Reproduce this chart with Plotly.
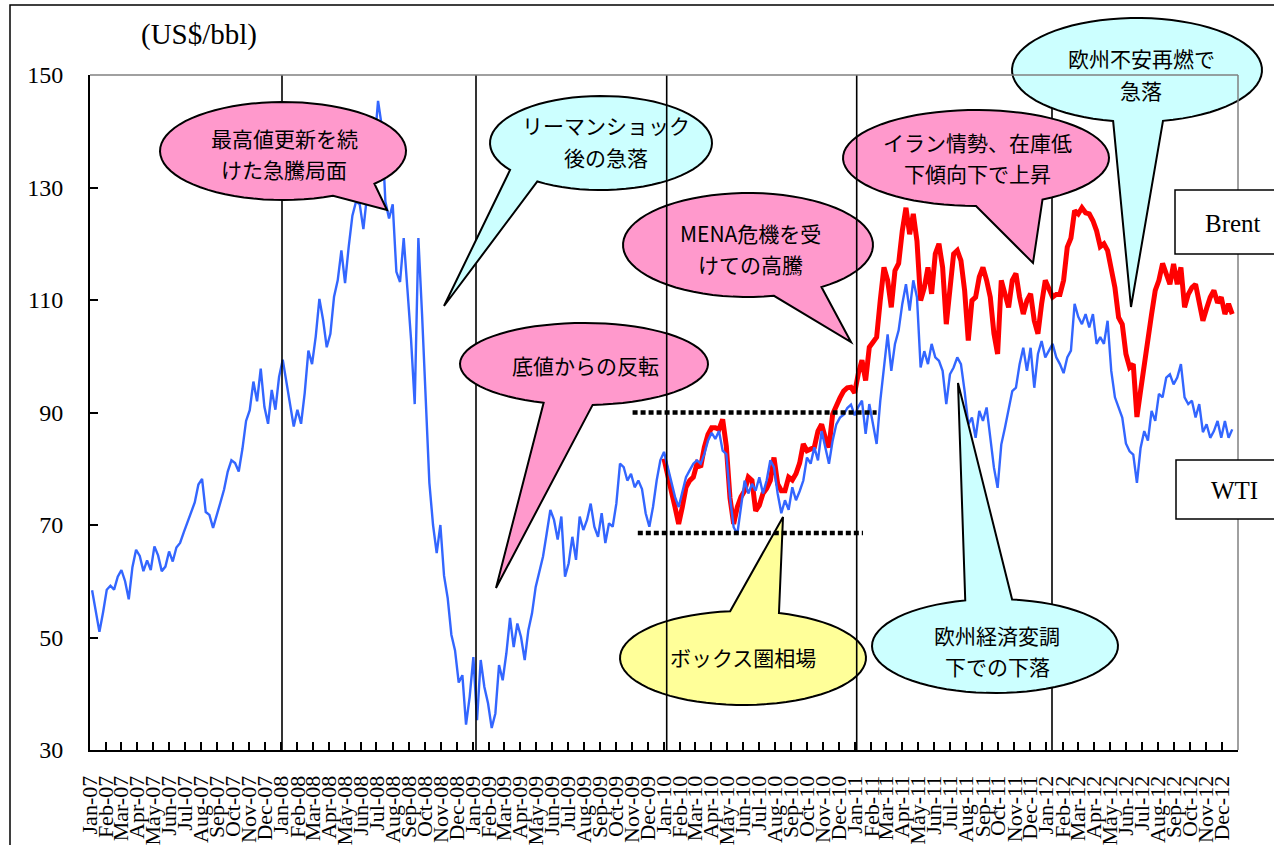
import numpy as np
import pandas as pd
import plotly.graph_objects as go

# ---------------------------------------------------------------
# Weekly (Friday) crude oil prices, US$/bbl
# ---------------------------------------------------------------
wti_2007 = [58.4, 55.0, 51.0, 54.5, 58.5, 59.2, 58.5, 60.8, 62.0, 60.0,
            56.8, 62.5, 65.6, 64.5, 61.8, 63.7, 62.0, 66.2, 64.6, 61.8,
            62.6, 65.3, 63.5, 66.0, 66.8, 68.7, 70.5, 72.5, 74.0, 77.2,
            78.2, 72.3, 71.8, 69.5, 72.0, 74.0, 76.3, 79.5, 81.5, 81.0,
            79.5, 83.5, 88.5, 90.4, 95.5, 92.0, 97.8, 91.0, 88.0, 94.0,
            90.5, 96.3]
wti_2008 = [99.4, 95.6, 92.0, 87.5, 90.5, 88.0, 93.5, 101.0, 98.6, 103.5,
            110.2, 106.5, 101.6, 104.0, 110.6, 113.5, 118.8, 113.0, 119.5, 125.0,
            127.5, 127.0, 122.6, 128.6, 133.0, 137.5, 145.4, 141.0, 127.5, 124.5,
            127.0, 115.0, 113.2, 121.0, 112.0, 103.0, 91.5, 121.0, 107.5, 93.0,
            77.5, 70.0, 65.0, 70.0, 61.0, 57.0, 50.5, 47.7, 42.0, 43.3,
            34.5, 39.5]
wti_2009 = [46.5, 35.3, 46.0, 41.2, 38.3, 33.9, 36.5, 45.1, 42.4, 47.2,
            53.5, 48.3, 52.5, 50.1, 46.0, 51.3, 54.3, 59.0, 61.5, 64.4,
            68.5, 72.7, 70.9, 67.4, 71.5, 60.8, 63.2, 67.9, 63.8, 71.5,
            69.1, 70.9, 73.8, 69.7, 67.9, 72.1, 66.8, 70.3, 69.7, 73.8,
            80.9, 80.3, 77.9, 79.1, 76.7, 77.9, 76.4, 72.1, 69.7, 73.2,
            77.9, 81.5]
wti_2010 = [83.0, 80.3, 77.9, 75.0, 73.2, 76.1, 78.5, 79.7, 80.9, 81.5,
            80.9, 82.6, 85.0, 86.4, 85.3, 86.7, 83.2, 82.6, 75.0, 69.6,
            68.4, 73.2, 77.9, 75.6, 77.3, 76.1, 78.5, 75.6, 77.9, 81.5,
            80.3, 75.6, 72.1, 74.4, 72.7, 76.7, 74.4, 76.0, 77.9, 82.0,
            80.9, 83.8, 81.5, 86.7, 83.8, 80.9, 85.0, 87.9, 89.1, 89.6,
            90.8, 91.4, 89.5]
wti_2011 = [91.0, 92.1, 86.2, 91.5, 88.0, 84.4, 92.1, 98.0, 103.9, 97.4,
            102.2, 104.6, 109.3, 112.8, 108.1, 113.5, 110.5, 98.0, 100.9, 98.6,
            102.2, 99.8, 99.2, 97.4, 91.5, 96.8, 98.0, 99.8, 98.6, 93.8,
            87.9, 89.1, 85.5, 90.3, 88.5, 90.9, 85.5, 80.2, 76.6, 84.3,
            87.3, 90.9, 93.8, 94.4, 98.6, 101.5, 97.4, 101.5, 94.4, 100.4,
            102.7, 99.8]
wti_2012 = [101.0, 102.2, 99.8, 98.6, 97.0, 99.8, 101.0, 109.3, 107.0, 105.7,
            107.5, 105.1, 107.5, 102.2, 103.4, 102.2, 106.3, 97.4, 92.7, 90.9,
            89.1, 84.5, 83.1, 82.5, 77.5, 83.7, 86.7, 85.0, 90.3, 88.5,
            93.3, 92.7, 96.2, 96.8, 95.0, 96.2, 98.6, 92.7, 91.5, 92.1,
            89.1, 91.5, 86.5, 87.9, 85.5, 86.7, 88.5, 85.5, 88.5, 85.5,
            87.0]

brent_2010 = [81.8, 78.5, 76.0, 73.2, 70.2, 73.2, 76.7, 77.9, 78.5, 80.9,
              80.3, 83.8, 86.1, 87.3, 87.3, 87.0, 88.8, 84.0, 74.8, 70.2,
              73.2, 75.0, 76.1, 78.5, 77.9, 72.5, 73.5, 75.6, 76.5, 77.9,
              82.0, 77.3, 76.1, 76.1, 78.5, 78.0, 79.1, 81.0, 84.4, 83.2,
              83.5, 83.8, 86.7, 87.9, 85.5, 83.8, 89.7, 91.4, 92.6, 93.8,
              94.4, 94.5, 93.5]
brent_2011 = [96.9, 99.3, 95.7, 101.6, 102.5, 103.4, 110.0, 115.8, 113.5, 108.7,
              115.2, 116.5, 122.3, 126.4, 121.7, 125.3, 120.5, 109.9, 112.2, 115.8,
              111.1, 118.2, 120.0, 115.8, 105.7, 111.7, 118.2, 118.8, 117.0, 111.7,
              102.8, 109.9, 110.5, 114.1, 115.8, 113.5, 110.5, 104.0, 100.4, 113.5,
              111.1, 108.7, 113.5, 114.7, 110.5, 107.5, 109.9, 111.1, 106.3, 104.0,
              109.3, 113.5]
brent_2012 = [112.0, 110.5, 111.0, 111.0, 113.5, 119.4, 121.0, 125.9, 125.3, 126.4,
              125.5, 125.3, 124.1, 122.3, 119.5, 120.0, 118.8, 115.5, 112.2, 106.9,
              105.7, 100.4, 98.0, 98.6, 89.2, 93.9, 98.0, 102.0, 107.5, 111.7,
              113.5, 116.5, 114.5, 112.8, 116.4, 112.8, 115.8, 108.7, 111.0, 112.2,
              112.8, 109.9, 106.3, 108.5, 110.5, 111.7, 109.5, 110.5, 107.5, 109.3,
              107.5]

wti_by_year = {2007: wti_2007, 2008: wti_2008, 2009: wti_2009,
               2010: wti_2010, 2011: wti_2011, 2012: wti_2012}
brent_by_year = {2010: brent_2010, 2011: brent_2011, 2012: brent_2012}

# Monthly axis ticks
month_starts = pd.date_range("2007-01-01", "2012-12-01", freq="MS")
month_labels = [d.strftime("%b-%y") for d in month_starts]


def weekly_series(by_year):
    dates, values = [], []
    for year, vals in by_year.items():
        fridays = pd.date_range(f"{year}-01-01", f"{year}-12-31", freq="W-FRI")
        assert len(vals) <= len(fridays)
        dates.extend(fridays[:len(vals)])
        values.extend(vals)
    return dates, values


wti_x, wti_y = weekly_series(wti_by_year)
brent_x, brent_y = weekly_series(brent_by_year)

# ---------------------------------------------------------------
# Page geometry (pixels) and helpers to place overlay drawings
# ---------------------------------------------------------------
W, H = 1274, 845
PL, PR, PT, PB = 90, 1238, 75, 750


def fx(x):
    return (x - PL) / (PR - PL)


def fy(y):
    return (PB - y) / (PB - PT)


JP_FONT = "Noto Sans CJK JP, Noto Sans CJK SC, sans-serif"
SERIF = "Liberation Serif, Times New Roman, serif"
PINK, CYAN, YELLOW = "#ff99cc", "#ccffff", "#ffff99"

fig = go.Figure()
fig.add_trace(go.Scatter(x=brent_x, y=brent_y, mode="lines", name="Brent",
                         line=dict(color="#ff0000", width=5)))
fig.add_trace(go.Scatter(x=wti_x, y=wti_y, mode="lines", name="WTI",
                         line=dict(color="#3366ff", width=2.4)))

shapes = []
annotations = []


def vline(xpix):
    return dict(type="line", xref="paper", yref="paper", x0=fx(xpix), x1=fx(xpix),
                y0=0, y1=1, line=dict(color="black", width=1.6), layer="above")


def bubble_path(c, r, gap, tip, n=72):
    cx, cy = c
    rx, ry = r
    a, b = gap
    pts = []
    for t in np.linspace(b, a + 360, n):
        th = np.radians(t)
        pts.append((cx + rx * np.cos(th), cy + ry * np.sin(th)))
    pts.append(tip)
    s = "M " + " L ".join(f"{fx(x):.5f},{fy(y):.5f}" for x, y in pts) + " Z"
    return s


callouts = [
    dict(lines=["最高値更新を続", "けた急騰局面"], fill=PINK, c=(283, 151), r=(123, 49),
         gap=(42, 66), tip=(387, 210), tx=284, ty=(138, 169)),
    dict(lines=["リーマンショック", "後の急落"], fill=CYAN, c=(601, 143), r=(111, 47),
         gap=(125, 145), tip=(444, 306), tx=606, ty=(125, 157)),
    dict(lines=["MENA危機を受", "けての高騰"], fill=PINK, c=(748, 245), r=(125, 52),
         gap=(54, 78), tip=(851, 342), tx=750, ty=(233, 264)),
    dict(lines=["イラン情勢、在庫低", "下傾向下で上昇"], fill=PINK, c=(976, 158), r=(133, 48),
         gap=(60, 90), tip=(1033, 263), tx=977, ty=(142, 173)),
    dict(lines=["欧州不安再燃で", "急落"], fill=CYAN, c=(1137, 70), r=(125, 52),
         gap=(78, 101), tip=(1131, 307), tx=1141, ty=(58, 90)),
    dict(lines=["底値からの反転"], fill=PINK, c=(584, 364), r=(124, 41),
         gap=(86, 109), tip=(496, 588), tx=585, ty=(365,)),
    dict(lines=["ボックス圏相場"], fill=YELLOW, c=(743, 658), r=(123, 47),
         gap=(264, 287), tip=(783, 517), tx=743, ty=(657,)),
    dict(lines=["欧州経済変調", "下での下落"], fill=CYAN, c=(995, 646), r=(123, 47),
         gap=(256, 278), tip=(958, 383), tx=997, ty=(635, 666)),
]

# Year separators that sit behind the callouts
for xp in (282, 476, 1052):
    shapes.append(vline(xp))

for co in callouts:
    shapes.append(dict(type="path", xref="paper", yref="paper",
                       path=bubble_path(co["c"], co["r"], co["gap"], co["tip"]),
                       fillcolor=co["fill"], line=dict(color="black", width=2),
                       layer="above"))
    for text, ty in zip(co["lines"], co["ty"]):
        annotations.append(dict(xref="paper", yref="paper", x=fx(co["tx"]), y=fy(ty),
                                text=text, showarrow=False, xanchor="center",
                                yanchor="middle",
                                font=dict(family=JP_FONT, size=21, color="black")))

# Year separators drawn over the callouts
for xp in (666.7, 856.7):
    shapes.append(vline(xp))

# Trading-range guides
shapes.append(dict(type="line", xref="x", yref="y", x0="2009-11-02", x1="2011-02-11",
                   y0=90, y1=90, line=dict(color="black", width=4.5, dash="5px,3px"),
                   layer="above"))
shapes.append(dict(type="line", xref="x", yref="y", x0="2009-11-12", x1="2011-01-16",
                   y0=68.6, y1=68.6, line=dict(color="black", width=4.5, dash="5px,3px"),
                   layer="above"))

# Top and right plot borders
shapes.append(dict(type="line", xref="paper", yref="paper", x0=0, x1=1, y0=1, y1=1,
                   line=dict(color="#808080", width=1.5), layer="above"))
shapes.append(dict(type="line", xref="paper", yref="paper", x0=1, x1=1, y0=0, y1=1,
                   line=dict(color="#808080", width=1.5), layer="above"))

# Series name boxes
for name, (x0, y0, x1, y1), (tx, ty) in [
    ("Brent", (1175, 190, 1300, 254), (1233, 223)),
    ("WTI", (1176, 460, 1300, 519), (1234, 490)),
]:
    shapes.append(dict(type="rect", xref="paper", yref="paper",
                       x0=fx(x0), x1=fx(x1), y0=fy(y1), y1=fy(y0),
                       fillcolor="white", line=dict(color="black", width=1.5),
                       layer="above"))
    annotations.append(dict(xref="paper", yref="paper", x=fx(tx), y=fy(ty), text=name,
                            showarrow=False, xanchor="center", yanchor="middle",
                            font=dict(family=SERIF, size=25, color="black")))

# Outer frame
shapes.append(dict(type="rect", xref="paper", yref="paper",
                   x0=fx(10), x1=fx(1300), y0=fy(870), y1=fy(5),
                   line=dict(color="black", width=1.5), fillcolor="rgba(0,0,0,0)",
                   layer="above"))

# Unit label
annotations.append(dict(xref="paper", yref="paper", x=fx(199), y=fy(35), text="(US$/bbl)",
                        showarrow=False, xanchor="center", yanchor="middle",
                        font=dict(family=SERIF, size=29, color="black")))

fig.update_layout(
    width=W, height=H,
    margin=dict(l=PL, r=W - PR, t=PT, b=H - PB, pad=0, autoexpand=False),
    paper_bgcolor="white", plot_bgcolor="white",
    showlegend=False,
    shapes=shapes, annotations=annotations,
    xaxis=dict(type="date", range=["2007-01-01", "2013-01-01"], automargin=False,
               tickvals=list(month_starts), ticktext=month_labels,
               tickangle=-90, ticks="inside", ticklen=8, tickwidth=1.5, tickcolor="black",
               showline=True, linecolor="black", linewidth=2, showgrid=False,
               zeroline=False, ticklabelstandoff=15,
               tickfont=dict(family=SERIF, size=22, color="black")),
    yaxis=dict(range=[30, 150], tickvals=[30, 50, 70, 90, 110, 130, 150], automargin=False,
               ticks="inside", ticklen=8, tickwidth=1.5, tickcolor="black",
               showline=True, linecolor="black", linewidth=2, showgrid=False,
               zeroline=False, ticklabelstandoff=20,
               tickfont=dict(family=SERIF, size=24, color="black")),
)

fig.write_html("out.html")
